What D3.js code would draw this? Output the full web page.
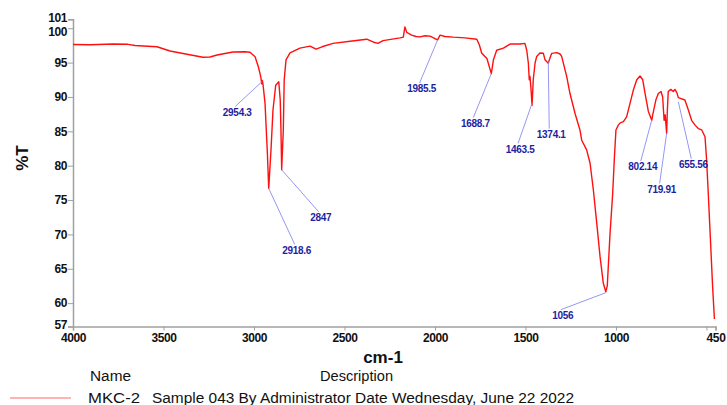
<!DOCTYPE html>
<html><head><meta charset="utf-8">
<script src="https://cdn.jsdelivr.net/npm/d3@7"></script>
<style>
html,body{margin:0;padding:0;background:#fff;}
svg{display:block;font-family:"Liberation Sans",Arial,sans-serif;}
</style></head>
<body><svg id="c" width="727" height="405"></svg>
<script>
const wavenumbers = [4000,3906,3779,3696,3657,3613,3536,3464,3370,3282,3243,3204,3116,3050,3022,2994,2976,2967,2962,2957,2954,2950,2939,2926,2918.6,2906,2895,2880,2863,2855,2851,2847,2838,2833,2823,2801,2746,2690,2657,2624,2563,2469,2377,2342,2315,2287,2193,2175,2166,2156,2129,2105,2083,2055,2027,2000,1985.5,1972,1945,1899,1834,1769,1755,1742,1724,1713,1688.7,1677,1659,1622,1585,1530,1503,1493,1484,1479,1475,1469,1463.5,1457,1447,1438,1420,1401,1392,1374.1,1368,1355,1327,1309,1300,1272,1254,1226,1199,1189,1162,1143,1125,1106,1088,1070,1056,1048,1033,1018,1009,1000,987,978,959,941,922,904,885,867,852,839,821,802.14,797,779,766,751,742,734,728,719.91,716,711,697,683,674,663,655.56,619,600,582,563,545,526,508,499,490,477,466,456];
const transmittance = [97.63,97.6,97.7,97.66,97.49,97.41,97.31,96.69,96.21,95.77,95.81,96.1,96.54,96.58,96.5,95.86,94.4,93.44,92.8,91.9,92.4,91.8,89.1,81.8,76.7,82.3,88.1,91.7,92.2,89.6,85.2,79.4,85.2,92.5,95.4,96.4,97.1,97.4,96.95,97.3,97.8,98.1,98.4,98.0,97.8,98.2,98.6,98.7,100.2,99.4,99.0,98.8,98.75,98.9,98.85,98.5,98.3,99.0,98.8,98.7,98.6,98.4,97.6,96.4,95.9,95.6,93.4,95.4,96.8,97.1,97.7,97.7,97.8,96.8,94.9,92.5,93.0,91.0,88.8,92.5,94.9,95.9,96.4,96.35,95.4,94.9,95.4,96.35,96.45,96.25,95.9,92.95,90.5,87.6,85.2,83.7,82.3,80.35,76.5,71.6,66.8,62.9,61.66,62.5,70,76,81,85.2,85.9,86.2,86.4,87.1,89.1,91.0,92.5,93.05,92.5,90.5,87.9,86.6,87.4,89.6,90.5,90.8,90.0,86.6,87.4,84.7,88.1,90.8,91.1,90.8,91.1,90.6,89.9,89.56,88.1,86.6,85.9,85.4,85.2,84.2,80.8,76.0,68.7,62.4,57.7];

const peakLabels = ["2954.3","2918.6","2847","1985.5","1688.7","1463.5","1374.1","1056","802.14","719.91","655.56"];
const peakWn = [2954.3,2918.6,2847,1985.5,1688.7,1463.5,1374.1,1056,802.14,719.91,655.56];
const peakT = [92.26,76.7,79.4,98.29,93.4,89.08,95.13,61.52,86.65,84.71,89.31];
// leader-line offsets in pixels (layout only)
const peakOffsets = [[-27,25],[26,56],[37,42],[-18,43],[-18,44],[-14,40],[1,67],[-45,17],[-11,41],[-7,50],[13,57]];

const xTicks = [4000,3500,3000,2500,2000,1500,1000,500,450];
const xTickLabels = ["4000","3500","3000","2500","2000","1500","1000","","450"];
const yMin = 56.6, yMax = 101.3;
const yTicks = [yMin,60,65,70,75,80,85,90,95,100,yMax];
const yTickLabels = ["57","60","65","70","75","80","85","90","95","100","101"];

const legendName = "MKC-2";
const legendDesc = "Sample 043 By Administrator Date Wednesday, June 22 2022";

const svg = d3.select("#c");
const x = d3.scaleLinear().domain([4000,450]).range([73,715.5]);
const y = d3.scaleLinear().domain([yMin,yMax]).range([326.5,19.3]);

// axes
const xAxis = d3.axisBottom(x).tickValues(xTicks).tickSize(4).tickPadding(3)
  .tickFormat((d,i)=>xTickLabels[i]);
const gx = svg.append("g").attr("transform","translate(0,326.5)").call(xAxis);
const yAxis = d3.axisLeft(y).tickValues(yTicks).tickSize(5).tickPadding(1)
  .tickFormat((d,i)=>yTickLabels[i]);
const gy = svg.append("g").attr("transform","translate(73,0)").call(yAxis);
[gx,gy].forEach(g=>{
  g.select(".domain").attr("stroke","#a0a0a0").attr("stroke-width",1.5);
  g.selectAll(".tick line").attr("stroke","#a0a0a0");
  g.selectAll(".tick text").attr("fill","#111").attr("font-size",12)
   .attr("font-weight","bold").attr("font-family","'Liberation Sans',Arial,sans-serif")
   .attr("letter-spacing","-0.4");
});
// nudge crowded end labels apart, as in the reference
gy.selectAll(".tick text").filter(d=>d===100).attr("dy","0.62em");
gy.selectAll(".tick text").filter(d=>d===yMax).attr("dy","0.2em");
gy.selectAll(".tick text").filter(d=>d===yMin).attr("dy","0.15em");

// spectrum
const pts = wavenumbers.map((w,i)=>[w,transmittance[i]]);
svg.append("path").datum(pts)
  .attr("d", d3.line().x(d=>x(d[0])).y(d=>y(d[1])))
  .attr("fill","none").attr("stroke","#ff1010").attr("stroke-width",1.4)
  .attr("stroke-linejoin","round");

// peak annotations
const ann = svg.append("g");
peakWn.forEach((w,i)=>{
  const x0 = x(w), y0 = y(peakT[i]);
  const x1 = x0 + peakOffsets[i][0], y1 = y0 + peakOffsets[i][1];
  ann.append("line").attr("x1",x0).attr("y1",y0).attr("x2",x1).attr("y2",y1)
    .attr("stroke","#8a8af2").attr("stroke-width",0.9);
  ann.append("text").attr("x",x1+2).attr("y",y1+9.5).attr("text-anchor","middle")
    .attr("font-size",10).attr("font-weight","bold").attr("fill","#1e1ea0")
    .attr("letter-spacing","-0.3").text(peakLabels[i]);
});

// axis titles
svg.append("text").attr("x",383).attr("y",363).attr("text-anchor","middle")
  .attr("font-size",17).attr("font-weight","bold").attr("fill","#111").text("cm-1");
svg.append("text").attr("transform","translate(28,158) rotate(-90)").attr("text-anchor","middle")
  .attr("font-size",17).attr("font-weight","bold").attr("fill","#111").text("%T");

// legend
svg.append("text").attr("x",90).attr("y",381).attr("font-size",15.5).attr("fill","#111")
  .attr("textLength",41).attr("lengthAdjust","spacingAndGlyphs").text("Name");
svg.append("text").attr("x",320).attr("y",381).attr("font-size",15.5).attr("fill","#111")
  .attr("textLength",73).attr("lengthAdjust","spacingAndGlyphs").text("Description");
svg.append("line").attr("x1",10).attr("x2",71).attr("y1",398).attr("y2",398)
  .attr("stroke","#ff9a9a").attr("stroke-width",1.5);
svg.append("text").attr("x",88).attr("y",403).attr("font-size",15.5).attr("fill","#111")
  .attr("textLength",52).attr("lengthAdjust","spacingAndGlyphs").text(legendName);
svg.append("text").attr("x",152).attr("y",403).attr("font-size",15.5).attr("fill","#111")
  .attr("textLength",422).attr("lengthAdjust","spacingAndGlyphs").text(legendDesc);
</script></body></html>
